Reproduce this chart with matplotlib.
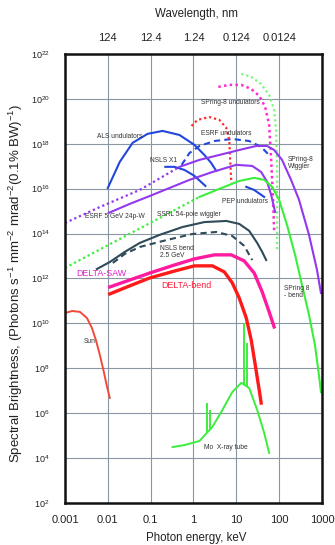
import numpy as np
import matplotlib
matplotlib.use('Agg')
import matplotlib.pyplot as plt

plt.rcParams['font.family'] = ['Liberation Sans', 'DejaVu Sans']
plt.rcParams['mathtext.fontset'] = 'custom'
plt.rcParams['mathtext.rm'] = 'Liberation Sans'
plt.rcParams['mathtext.it'] = 'Liberation Sans:italic'
plt.rcParams['mathtext.bf'] = 'Liberation Sans:bold'

# ---- data: photon energy (keV) and log10 spectral brightness ----
als_E = [0.01, 0.019, 0.038, 0.085, 0.19, 0.47, 1.05, 1.8, 2.6, 3.4]
als_logB = [16.03, 17.19, 18.04, 18.44, 18.57, 18.39, 17.95, 17.50, 17.14, 16.79]

nslsx1_E = [0.22, 0.36, 0.62, 1.05, 1.9]
nslsx1_logB = [16.97, 16.97, 16.83, 16.57, 16.12]

esrf_und_E = [0.53, 0.81, 1.38, 3.08, 8.07, 20, 38, 58]
esrf_und_logB = [17.06, 17.59, 17.90, 18.12, 18.21, 18.12, 17.86, 17.50]

esrf_red_E = [0.9, 1.24, 2.35, 4.03, 5.85, 6.87, 7.2, 7.66]
esrf_red_logB = [18.79, 19.06, 19.19, 19.06, 18.70, 18.17, 17.28, 16.25]

sp8und_E = [3.81, 6.87, 13.1, 22.3, 34.3, 47.2, 58.5, 65.2, 72.4, 76.6]
sp8und_logB = [20.53, 20.62, 20.62, 20.44, 20.13, 19.64, 18.84, 17.28, 15.5, 14.07]

green_top_E = [13.1, 22.3, 38.1, 58.5, 76.6, 85.1, 89.7, 89.7]
green_top_logB = [21.11, 20.98, 20.66, 20.17, 19.51, 18.61, 16.84, 13.18]

esrf24_E = [0.001, 0.0065, 0.0555, 0.472]
esrf24_logB = [14.47, 15.18, 15.94, 16.97]

sp8wig_E = [0.472, 1.38, 4.03, 11.7, 29.2, 52.6, 76.6, 117, 190, 292, 499, 766, 948]
sp8wig_logB = [16.97, 17.28, 17.50, 17.72, 17.90, 17.90, 17.72, 17.28, 16.39, 15.50, 13.94, 12.38, 11.35]

purple2_E = [0.0105, 0.0325, 0.0948, 0.277, 0.807, 2.77, 10, 23.6, 38.1, 52.6, 65.2, 80.7]
purple2_logB = [14.92, 15.32, 15.67, 16.03, 16.39, 16.74, 17.06, 17.01, 16.74, 16.30, 15.72, 14.96]

pep_E = [17.1, 26.2, 44.8]
pep_logB = [16.08, 15.94, 15.63]

green_dot_E = [0.001, 1.38]
green_dot_logB = [12.47, 15.63]

sp8bend_E = [1.38, 4.03, 11.7, 26.2, 44.8, 68.7, 100, 153, 236, 343, 499, 687, 851, 948]
sp8bend_logB = [15.63, 15.99, 16.34, 16.48, 16.39, 16.08, 15.50, 14.38, 13.05, 11.71, 10.37, 9.04, 7.70, 6.94]

ssrl_E = [0.00555, 0.0111, 0.0248, 0.0555, 0.162, 0.555, 1.8, 5.85, 11.7, 20, 30.8, 40.3, 49.9]
ssrl_logB = [12.42, 12.73, 13.18, 13.58, 13.94, 14.29, 14.51, 14.56, 14.43, 14.12, 13.58, 13.18, 12.82]

nslsbend_E = [0.0131, 0.0248, 0.0555, 0.236, 0.948, 3.43, 8.07, 15.3, 23.6]
nslsbend_logB = [12.69, 13.09, 13.40, 13.71, 13.98, 14.07, 13.89, 13.45, 12.82]

saw_E = [0.0111, 0.0325, 0.0948, 0.361, 1.05, 3.08, 7.66, 15.3, 26.2, 40.3, 58.5, 76.6]
saw_logB = [11.62, 11.93, 12.24, 12.60, 12.87, 13.05, 13.05, 12.78, 12.24, 11.40, 10.51, 9.84]

dbend_E = [0.0111, 0.0325, 0.0948, 0.361, 1.05, 2.77, 5.26, 8.07, 11.7, 17.1, 22.3, 27.7, 34.3, 38.1]
dbend_logB = [11.31, 11.67, 12.02, 12.33, 12.56, 12.56, 12.29, 11.80, 11.13, 10.24, 9.26, 8.15, 7.03, 6.45]

sun_E = [0.001, 0.00146, 0.00223, 0.00325, 0.00424, 0.00526, 0.00652, 0.00807, 0.00948, 0.0111]
sun_logB = [10.46, 10.55, 10.51, 10.24, 9.80, 9.26, 8.59, 7.84, 7.21, 6.68]

mo_E = [0.325, 0.62, 1.38, 2.77, 4.73, 8.07, 13.1, 20, 30.8, 44.8, 58.5]
mo_logB = [4.49, 4.58, 4.76, 5.39, 6.14, 6.94, 7.35, 7.12, 6.14, 5.12, 4.23]
mo_line_E = [2.12, 2.48, 15.3, 18.0]
mo_line_logB = [6.45, 6.14, 10.02, 9.13]

x_ticks = [0.001, 0.01, 0.1, 1, 10, 100, 1000]
x_ticklabels = ['0.001', '0.01', '0.1', '1', '10', '100', '1000']
wl_ticklabels = ['124', '12.4', '1.24', '0.124', '0.0124']
y_exps = list(range(2, 23, 2))

# ---- figure ----
fig = plt.figure(figsize=(3.35, 5.45), dpi=100)
ax = fig.add_axes([0.194, 0.0771, 0.767, 0.824])
ax.set_xscale('log')
ax.set_yscale('log')
ax.set_xlim(0.001, 1000)
ax.set_ylim(1e2, 1e22)

def P(E, logB):
    return np.array(E, float), 10.0 ** np.array(logB, float)

BLUE = '#2346dc'
PURPLE = '#9238ee'
GREEN = '#3cee3c'
SLATE = '#2f4a58'
dot = (0, (1, 1.3))

ax.plot(*P(als_E, als_logB), color=BLUE, lw=1.5)
ax.plot(*P(nslsx1_E, nslsx1_logB), color=BLUE, lw=1.5)
ax.plot(*P(esrf_und_E, esrf_und_logB), color=BLUE, lw=1.5, ls=(0, (3, 2)))
ax.plot(*P(pep_E, pep_logB), color=BLUE, lw=1.5)
ax.plot(*P(esrf_red_E, esrf_red_logB), color='#ff2a2a', lw=1.6, ls=dot)
ax.plot(*P(sp8und_E, sp8und_logB), color='#ff2ad0', lw=1.8, ls=dot)
ax.plot(*P(green_top_E, green_top_logB), color='#7cf57c', lw=1.6, ls=dot)
ax.plot(*P(esrf24_E, esrf24_logB), color=PURPLE, lw=1.6, ls=dot)
ax.plot(*P(sp8wig_E, sp8wig_logB), color=PURPLE, lw=1.5)
ax.plot(*P(purple2_E, purple2_logB), color=PURPLE, lw=1.5)
ax.plot(*P(green_dot_E, green_dot_logB), color=GREEN, lw=1.6, ls=dot)
ax.plot(*P(sp8bend_E, sp8bend_logB), color=GREEN, lw=1.5)
ax.plot(*P(ssrl_E, ssrl_logB), color=SLATE, lw=1.5)
ax.plot(*P(nslsbend_E, nslsbend_logB), color=SLATE, lw=1.5, ls=(0, (3, 2)))
ax.plot(*P(saw_E, saw_logB), color='#ff1aa0', lw=2.4)
ax.plot(*P(dbend_E, dbend_logB), color='#ff1a1a', lw=2.4)
ax.plot(*P(sun_E, sun_logB), color='#f24a3a', lw=1.4)
ax.plot(*P(mo_E, mo_logB), color=GREEN, lw=1.4)
mo_base = np.interp(np.log10(mo_line_E), np.log10(mo_E), mo_logB)
ax.vlines(mo_line_E, 10.0 ** mo_base, 10.0 ** np.array(mo_line_logB), color=GREEN, lw=1.4)

# ---- labels ----
lab = dict(fontsize=4.8, color='#333333', va='center', ha='left')
ax.text(0.00555, 2.0e18, 'ALS undulators', **lab)
ax.text(0.0948, 1.7e17, 'NSLS X1', **lab)
ax.text(1.53, 3.0e18, 'ESRF undulators', **lab)
ax.text(1.53, 6.6e19, 'SPring-8 undulators', **lab)
ax.text(160, 1.4e17, 'SPring-8\nWiggler', linespacing=1.0, **lab)
ax.text(4.72, 2.6e15, 'PEP undulators', **lab)
ax.text(0.0029, 5.5e14, 'ESRF 5 GeV 24p-W', **lab)
ax.text(0.138, 6.7e14, 'SSRL 54-pole wiggler', **lab)
ax.text(0.162, 1.5e13, 'NSLS bend\n2.5 GeV', linespacing=1.0, **lab)
ax.text(0.00277, 1.5e9, 'Sun', **lab)
ax.text(1.8, 3.1e4, 'Mo  X-ray tube', **lab)
ax.text(131, 2.5e11, 'SPring 8\n- bend', linespacing=1.0, **lab)
ax.text(0.0018, 1.6e12, 'DELTA-SAW', fontsize=6.4, color='#e020c8', va='center', ha='left')
ax.text(0.18, 4.7e11, 'DELTA-bend', fontsize=6.4, color='#ff1a3a', va='center', ha='left')

# ---- axes styling ----
ax.set_xticks(x_ticks)
ax.set_xticklabels(x_ticklabels)
ax.set_yticks([10.0 ** e for e in y_exps])
ax.set_yticklabels(['$10^{%d}$' % e for e in y_exps])
ax.minorticks_off()
ax.tick_params(axis='x', length=0, pad=9, labelsize=8, colors='#222222')
ax.tick_params(axis='y', length=0, pad=11, labelsize=6.5, colors='#222222')
ax.grid(True, color='#8a96a3', lw=0.8)
ax.set_axisbelow(True)
for s in ax.spines.values():
    s.set_linewidth(1.8)
    s.set_color('#111111')

ax2 = ax.twiny()
ax2.set_xscale('log')
ax2.set_xlim(ax.get_xlim())
ax2.set_xticks([1.23984 / float(w) for w in wl_ticklabels])
ax2.set_xticklabels(wl_ticklabels)
ax2.minorticks_off()
ax2.tick_params(axis='x', length=0, pad=8, labelsize=8, colors='#222222')
for s in ax2.spines.values():
    s.set_visible(False)

fig.text(196 / 335, 1 - 14 / 545, 'Wavelength, nm', ha='center', va='center', fontsize=8.3, color='#222222')
fig.text(196 / 335, 1 - 538 / 545, 'Photon energy, keV', ha='center', va='center', fontsize=8.3, color='#222222')
fig.text(16 / 335, 1 - 283 / 545,
         'Spectral Brightness, (Photons s$^{-1}$ mm$^{-2}$ mrad$^{-2}$(0.1% BW)$^{-1}$)',
         rotation=90, ha='center', va='center', fontsize=9.5, color='#222222')

fig.savefig('out.png', dpi=100)
